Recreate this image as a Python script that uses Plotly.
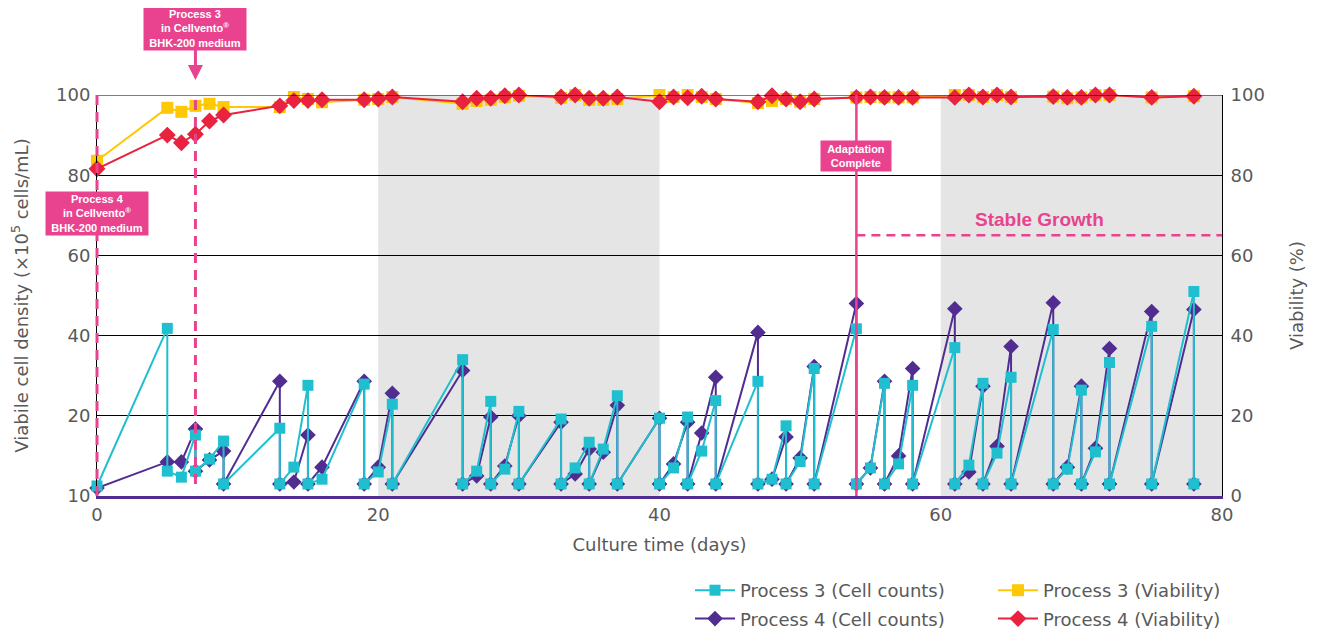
import plotly.graph_objects as go

# ---------------- data ----------------
p3_count_days = [0, 5, 5, 6, 7, 7, 8, 9, 9, 13, 13, 14, 15, 15, 16, 19, 19, 20, 21, 21,
                 26, 26, 27, 28, 28, 29, 30, 30, 33, 33, 34, 35, 35, 36, 37, 37, 40, 40,
                 41, 42, 42, 43, 44, 44, 47, 47, 48, 49, 49, 50, 51, 51, 54, 54, 55, 56,
                 56, 57, 58, 58, 61, 61, 62, 63, 63, 64, 65, 65, 68, 68, 69, 70, 70, 71,
                 72, 72, 75, 75, 78, 78]
p3_count_vals = [2.5, 41.8, 6.2, 4.7, 15.2, 6.2, 9.2, 13.7, 3, 16.9, 3, 7.2, 27.6, 3, 4.2,
                 27.9, 3, 6, 22.9, 3, 34, 3, 6.2, 23.6, 3, 6.7, 21.1, 3, 19.2, 3, 7, 13.4,
                 3, 11.7, 25, 3, 19.4, 3, 7, 19.7, 3, 11.2, 23.8, 3, 28.6, 3, 4.2, 17.5, 3,
                 8.6, 31.8, 3, 41.7, 3, 7, 28.1, 3, 8, 27.6, 3, 37, 3, 7.7, 28.1, 3, 10.7,
                 29.6, 3, 41.5, 3, 6.7, 26.4, 3, 11, 33.3, 3, 42.3, 3, 51, 3]

p4_count_days = [0, 5, 6, 7, 7, 8, 9, 9, 13, 13, 14, 15, 15, 16, 19, 19, 20, 21, 21, 26,
                 26, 27, 28, 28, 29, 30, 30, 33, 33, 34, 35, 35, 36, 37, 37, 40, 40, 41,
                 42, 42, 43, 44, 44, 47, 47, 48, 49, 49, 50, 51, 51, 54, 54, 55, 56, 56,
                 57, 58, 58, 61, 61, 62, 63, 63, 64, 65, 65, 68, 68, 69, 70, 70, 71, 72,
                 72, 75, 75, 78, 78]
p4_count_vals = [2, 8.5, 8.5, 16.7, 6.2, 9, 11.2, 3, 28.6, 3, 3.5, 15.2, 3, 7.2, 28.6, 3,
                 7.2, 25.6, 3, 31.3, 3, 5, 19.7, 3, 7.5, 20, 3, 18.4, 3, 5.5, 11.7, 3,
                 10.9, 22.6, 3, 19.4, 3, 8, 18.4, 3, 15.7, 29.6, 3, 40.8, 3, 4.2, 14.7, 3,
                 9.5, 32.3, 3, 48, 3, 7, 28.6, 3, 10, 31.8, 3, 46.7, 3, 6, 27.4, 3, 12.4,
                 37.3, 3, 48.2, 3, 7.2, 27.4, 3, 11.9, 36.8, 3, 46, 3, 46.5, 3]

via_days = [0, 5, 6, 7, 8, 9, 13, 14, 15, 16, 19, 20, 21, 26, 27, 28, 29, 30, 33, 34,
            35, 36, 37, 40, 41, 42, 43, 44, 47, 48, 49, 50, 51, 54, 55, 56, 57, 58, 61,
            62, 63, 64, 65, 68, 69, 70, 71, 72, 75, 78]
p3_via_vals = [83.6, 96.8, 95.8, 97.3, 97.8, 97, 97, 99.5, 99, 98.2, 98.8, 99, 99.5, 97.8,
               98.5, 98.8, 99.5, 99.8, 99.3, 100, 98.8, 98.8, 99, 100, 99.5, 100, 99.5,
               99, 98, 98.5, 99, 98.3, 99, 99.4, 99.5, 99.4, 99.4, 99.4, 100, 100, 99.5,
               100, 99.5, 99.6, 99.2, 99.4, 100, 100, 99.4, 99.7]
p4_via_vals = [81.6, 90, 88.1, 90.2, 93.5, 95, 97.3, 98.6, 98.6, 98.8, 98.8, 99, 99.5,
               98.3, 99.2, 99.2, 99.8, 100, 99.5, 100, 99.2, 99.2, 99.5, 98.3, 99.5, 99.3,
               99.7, 99, 98.3, 99.8, 99, 98.3, 99, 99.4, 99.5, 99.4, 99.4, 99.4, 99.4,
               100, 99.5, 100, 99.5, 99.6, 99.4, 99.4, 100, 100, 99.4, 99.7]

x_ticks = [0, 20, 40, 60, 80]
y_left_ticks = [0, 20, 40, 60, 80, 100]
y_left_labels = ["10", "20", "40", "60", "80", "100"]
y_right_ticks = [0, 20, 40, 60, 80, 100]
shaded_ranges = [(20, 40), (60, 80)]

# ---------------- styling ----------------
TEAL = "#1fbfcf"
PURPLE = "#512d91"
YELLOW = "#ffc805"
RED = "#e8223f"
PINK = "#e9438f"
GRAY_TXT = "#595959"
FONT = "DejaVu Sans"
BOXFONT = "Liberation Sans"

# page body has an 8px default margin; compensate so the plot lands where intended
OFF = 8
W, H = 1311, 640
ML, MT = 89, 87
PW, PH = 1125, 402
MR = W - ML - PW
MB = H - MT - PH


def sx_to_paper(sx):
    return (sx - OFF - ML) / PW


def sy_to_paper(sy):
    return (MT + PH - (sy - OFF)) / PH


fig = go.Figure()

fig.add_trace(go.Scatter(
    x=p4_count_days, y=p4_count_vals, name="Process 4 (Cell counts)",
    mode="lines+markers", line=dict(color=PURPLE, width=2),
    marker=dict(symbol="diamond", size=12, color=PURPLE),
    cliponaxis=False, legend="legend", legendrank=2, legendgroup="p4c"))
fig.add_trace(go.Scatter(
    x=p3_count_days, y=p3_count_vals, name="Process 3 (Cell counts)",
    mode="lines+markers", line=dict(color=TEAL, width=2),
    marker=dict(symbol="square", size=11, color=TEAL),
    cliponaxis=False, legend="legend", legendrank=1, legendgroup="p3c"))
fig.add_trace(go.Scatter(
    x=via_days, y=p3_via_vals, name="Process 3 (Viability)", yaxis="y2",
    mode="lines+markers", line=dict(color=YELLOW, width=2),
    marker=dict(symbol="square", size=12, color=YELLOW),
    cliponaxis=False, legend="legend2", legendrank=1, legendgroup="p3v"))
fig.add_trace(go.Scatter(
    x=via_days, y=p4_via_vals, name="Process 4 (Viability)", yaxis="y2",
    mode="lines+markers", line=dict(color=RED, width=2),
    marker=dict(symbol="diamond", size=13, color=RED),
    cliponaxis=False, legend="legend2", legendrank=2, legendgroup="p4v"))

shapes = []
for a, b in shaded_ranges:
    shapes.append(dict(type="rect", xref="x", yref="y", x0=a, x1=b, y0=0, y1=100,
                       fillcolor="#e5e5e5", line=dict(width=0), layer="below"))
# top border
shapes.append(dict(type="line", xref="x", yref="y", x0=0, x1=80, y0=100, y1=100,
                   line=dict(color="black", width=1)))
# pink markers
shapes.append(dict(type="line", xref="paper", yref="paper", x0=0, x1=0, y0=0, y1=1,
                   line=dict(color=PINK, width=3, dash="10px,7px")))
shapes.append(dict(type="line", xref="x", yref="y", x0=7, x1=7, y0=3, y1=100,
                   line=dict(color=PINK, width=3, dash="10px,7px")))
shapes.append(dict(type="line", xref="x", yref="y", x0=54, x1=54, y0=0, y1=100,
                   line=dict(color=PINK, width=2.5)))
shapes.append(dict(type="line", xref="x", yref="y", x0=54, x1=80, y0=65, y1=65,
                   line=dict(color=PINK, width=2.5, dash="9px,6px")))

annotations = [
    dict(x=7, y=sy_to_paper(80), xref="x", yref="paper",
         text="<b>Process 3<br>in Cellvento<sup>®</sup><br>BHK-200 medium</b>",
         showarrow=True, ax=0, ay=-52, arrowhead=2, arrowsize=1, arrowwidth=3,
         arrowcolor=PINK, bgcolor=PINK, borderpad=1, width=100,
         font=dict(family=BOXFONT, size=11, color="white")),
    dict(x=0, y=70.5, xref="x", yref="y",
         text="<b>Process 4<br>in Cellvento<sup>®</sup><br>BHK-200 medium</b>",
         showarrow=False, bgcolor=PINK, borderpad=1, width=100,
         font=dict(family=BOXFONT, size=11, color="white")),
    dict(x=54, y=84.8, xref="x", yref="y",
         text="<b>Adaptation<br>Complete</b>",
         showarrow=False, bgcolor=PINK, borderpad=2, width=66,
         font=dict(family=BOXFONT, size=11, color="white")),
    dict(x=67, y=68.9, xref="x", yref="y", text="<b>Stable Growth</b>",
         showarrow=False, font=dict(family=BOXFONT, size=19, color=PINK)),
]

legend_common = dict(xref="paper", yref="paper", xanchor="left", yanchor="top",
                     orientation="v", bgcolor="rgba(0,0,0,0)", itemwidth=40,
                     font=dict(size=18, color=GRAY_TXT), traceorder="grouped",
                     tracegroupgap=2)

fig.update_layout(
    width=W, height=H,
    margin=dict(l=ML, r=MR, t=MT, b=MB),
    paper_bgcolor="white", plot_bgcolor="white",
    font=dict(family=FONT, size=18, color=GRAY_TXT),
    xaxis=dict(range=[0, 80], tickvals=x_ticks, showgrid=False, zeroline=False,
               showline=True, linecolor=PURPLE, linewidth=3, ticks="",
               tickfont=dict(size=18, color=GRAY_TXT),
               title=dict(text="Culture time (days)", standoff=15,
                          font=dict(size=18, color=GRAY_TXT))),
    yaxis=dict(range=[0, 100], tickvals=y_left_ticks, ticktext=y_left_labels,
               showgrid=True, gridcolor="black", gridwidth=1, zeroline=False,
               showline=True, linecolor="black", linewidth=1, ticks="",
               ticklabelstandoff=2,
               tickfont=dict(size=18, color=GRAY_TXT),
               title=dict(text="Viabile cell density (×10<sup>5</sup> cells/mL)",
                          standoff=24, font=dict(size=18, color=GRAY_TXT))),
    yaxis2=dict(range=[0, 100], tickvals=y_right_ticks, overlaying="y", side="right",
                showgrid=False, zeroline=False, showline=True, linecolor="black",
                linewidth=1, ticks="", ticklabelstandoff=4,
                tickfont=dict(size=18, color=GRAY_TXT),
                title=dict(text="Viability (%)", standoff=26,
                           font=dict(size=18, color=GRAY_TXT))),
    legend=dict(x=sx_to_paper(690), y=sy_to_paper(572), **legend_common),
    legend2=dict(x=sx_to_paper(993), y=sy_to_paper(572), **legend_common),
    shapes=shapes,
    annotations=annotations,
    showlegend=True,
)

fig.write_html("out.html")
